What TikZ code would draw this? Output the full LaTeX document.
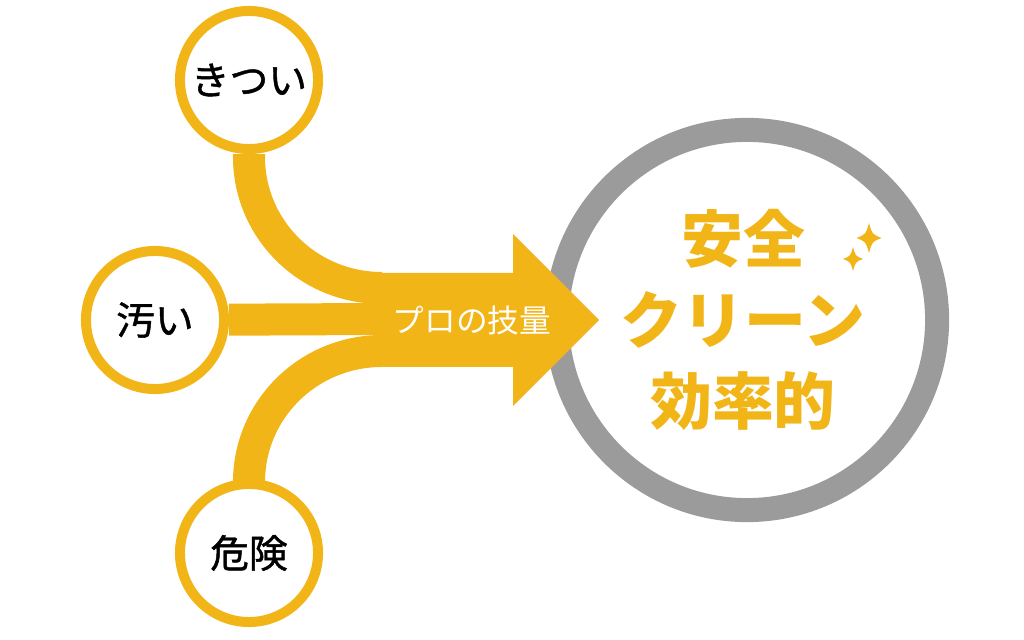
\documentclass[tikz,border=0pt]{standalone}
\usepackage{fontspec}
\newfontfamily\jpfont{Noto Sans CJK JP}
\newfontfamily\jpmedium{Noto Sans CJK JP}[FakeBold=1.2]
\usetikzlibrary{backgrounds}
\definecolor{gold}{HTML}{F1B517}
\definecolor{ringgrey}{HTML}{9B9B9B}
% four-pointed sparkle: centre x, y, half width, half height
\newcommand{\sparkle}[4]{%
  \fill[gold] (#1,#2-#4) .. controls (#1+0.25*#3,#2-0.25*#4) .. (#1+#3,#2)
    .. controls (#1+0.25*#3,#2+0.25*#4) .. (#1,#2+#4)
    .. controls (#1-0.25*#3,#2+0.25*#4) .. (#1-#3,#2)
    .. controls (#1-0.25*#3,#2-0.25*#4) .. cycle;}

\begin{document}
\begin{tikzpicture}
[x=0.01cm,y=-0.01cm,
 badge/.style={circle,draw=gold,line width=0.1cm,fill=white,
   minimum size=1.38cm,inner sep=0pt,font=\jpmedium\fontsize{11}{12}\selectfont},
 band/.style={draw=gold,line width=0.32cm},
 goalring/.style={circle,draw=ringgrey,line width=0.24cm,fill=white,
   minimum size=3.8cm}]
\useasboundingbox (0,0) rectangle (1024,640);

\node[goalring] (goal) at (747,320) {};
\node[text=gold,align=center,
  font=\jpfont\bfseries\fontsize{17.6}{23}\selectfont] (result) at (743,320)
  {安全\\クリーン\\効率的};
\sparkle{869}{238}{12.5}{15}
\sparkle{853}{259}{10}{12}

% merged arrow
\coordinate (merge) at (380,320);
\fill[gold] (merge) ++(0,-47) -- ++(133,0) -- ++(0,-39) -- (599,320)
  -- (513,406) -- ++(0,-39) -- ++(-133,0) -- cycle;
\node[text=white,font=\jpfont\fontsize{9}{10}\selectfont] (skill) at (472,320) {プロの技量};

\node[badge] (kitsui) at (249,80) {きつい};
\node[badge] (kitanai) at (155,320) {汚い};
\node[badge] (kiken) at (249,553) {危険};

\begin{scope}[on background layer]
\draw[band] (kitsui) -- (249,157) .. controls (249,229) and (308,288) .. (382,288);
\draw[band] (kitanai) -- (382,319);
\draw[band] (kiken) -- (249,482) .. controls (249,410) and (308,351) .. (382,351);
\end{scope}

\end{tikzpicture}
\end{document}
